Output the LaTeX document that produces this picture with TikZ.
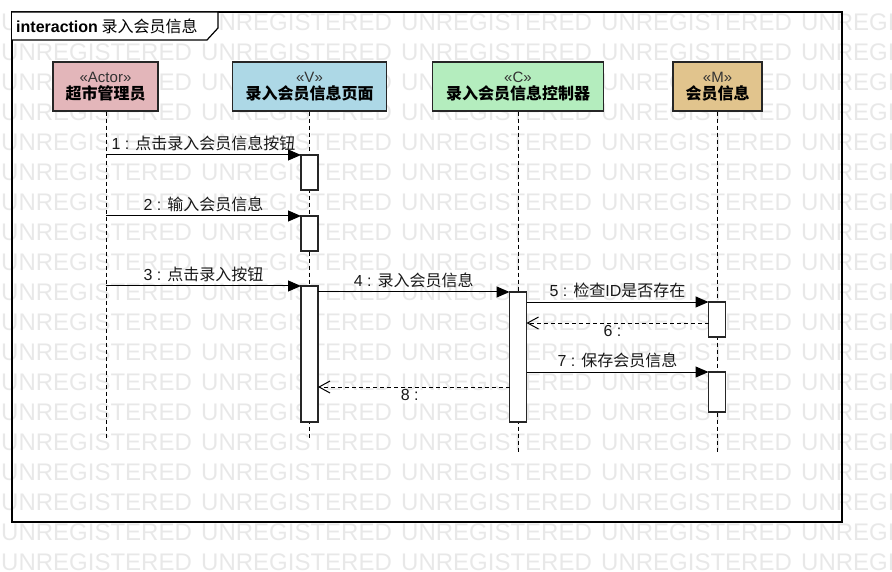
\documentclass[tikz,border=0pt]{standalone}
\usepackage{fontspec}
\setmainfont{Noto Sans CJK SC}
\newfontfamily\lat{Liberation Sans}
\usetikzlibrary{arrows.meta}
\definecolor{actorc}{RGB}{227,182,186}
\definecolor{viewc}{RGB}{173,216,230}
\definecolor{ctrlc}{RGB}{180,237,190}
\definecolor{modelc}{RGB}{225,196,141}
\definecolor{wmc}{RGB}{232,232,232}
\begin{document}
\begin{tikzpicture}[x=1pt,y=-1pt,
  wm/.style={font=\lat\fontsize{24}{24}\selectfont, text=wmc, anchor=west, inner sep=0pt},
  head/.style={draw=black!85, line width=1.2pt, minimum height=49pt, inner sep=0pt, align=center, font=\fontsize{16}{17}\selectfont},
  life/.style={draw=black, line width=0.9pt, dash pattern=on 4pt off 3pt},
  actbar/.style={draw=black!85, fill=white, line width=1.1pt, minimum width=17pt, inner sep=0pt, outer sep=0pt},
  msg/.style={draw=black, line width=1pt, -{Triangle[length=13pt,width=11pt]}},
  ret/.style={draw=black, line width=1pt, dash pattern=on 4pt off 3pt, -{Straight Barb[length=11pt,width=12pt]}},
  lbl/.style={font=\fontsize{16}{18}\selectfont, text=black!90, inner sep=1pt}
]
\useasboundingbox (0,0) rectangle (892,572);
% watermark
\foreach \r in {0,...,18}{
  \foreach \c in {0,...,4}{
    \node[wm] at (\c*200+1, 22+\r*30) {UNREGISTERED};
  }
}
% frame
\draw[line width=1.2pt] (12,12) rectangle (842,522);
\draw[line width=1.2pt, fill=white] (12,12) -- (218,12) -- (218,28) -- (207,40) -- (12,40);
\node[anchor=west, inner sep=0pt, font=\fontsize{16}{18}\selectfont] (title) at (16,26) {{\lat\bfseries interaction} 录入会员信息};
% heads
\node[head, fill=actorc, minimum width=105pt] (a) at (105.5,86.5) {{\lat\fontsize{15}{17}\selectfont\color{black!80}«Actor»}\\\textbf{超市管理员}};
\node[head, fill=viewc, minimum width=154pt] (v) at (309.5,86.5) {{\lat\fontsize{15}{17}\selectfont\color{black!80}«V»}\\\textbf{录入会员信息页面}};
\node[head, fill=ctrlc, minimum width=171pt] (c) at (518,86.5) {{\lat\fontsize{15}{17}\selectfont\color{black!80}«C»}\\\textbf{录入会员信息控制器}};
\node[head, fill=modelc, minimum width=89pt] (m) at (717.5,86.5) {{\lat\fontsize{15}{17}\selectfont\color{black!80}«M»}\\\textbf{会员信息}};
% lifeline ends
\coordinate (aend) at (106,440);
\coordinate (vend) at (309.5,438);
\coordinate (cend) at (518,454);
\coordinate (mend) at (717.5,454);
\draw[life] (a.south -| aend) -- (aend);
\draw[life] (v.south -| vend) -- (vend);
\draw[life] (c.south -| cend) -- (cend);
\draw[life] (m.south -| mend) -- (mend);
% activation bars
\node[actbar, minimum height=35pt] (v1) at (309.5,172.5) {};
\node[actbar, minimum height=35pt] (v2) at (309.5,233.5) {};
\node[actbar, minimum height=136pt] (v3) at (309.5,354) {};
\node[actbar, minimum height=130pt] (c1) at (518,357) {};
\node[actbar, minimum height=35pt] (m1) at (717,319.5) {};
\node[actbar, minimum height=40pt] (m2) at (717,392) {};
% messages
\draw[msg] (aend |- v1.north west) -- node[lbl, above=3pt] {{\lat 1 : }点击录入会员信息按钮} (v1.north west);
\draw[msg] (aend |- v2.north west) -- node[lbl, above=3pt] {{\lat 2 : }输入会员信息} (v2.north west);
\draw[msg] (aend |- v3.north west) -- node[lbl, above=3pt] {{\lat 3 : }点击录入按钮} (v3.north west);
\draw[msg] (v3.north east |- c1.north west) -- node[lbl, above=3pt] {{\lat 4 : }录入会员信息} (c1.north west);
\draw[msg] (c1.north east |- m1.north west) -- node[lbl, above=3pt] {{\lat 5 : }检查{\lat ID}是否存在} (m1.north west);
\coordinate (r6) at (717,323);
\draw[ret] (m1.west |- r6) -- node[lbl, below=1pt, xshift=-5pt] {\lat 6 :} (c1.east |- r6);
\draw[msg] (c1.north east |- m2.north west) -- node[lbl, above=3pt] {{\lat 7 : }保存会员信息} (m2.north west);
\coordinate (r8) at (518,387);
\draw[ret] (c1.west |- r8) -- node[lbl, below=1pt, xshift=-4pt] {\lat 8 :} (v3.east |- r8);
\end{tikzpicture}
\end{document}
